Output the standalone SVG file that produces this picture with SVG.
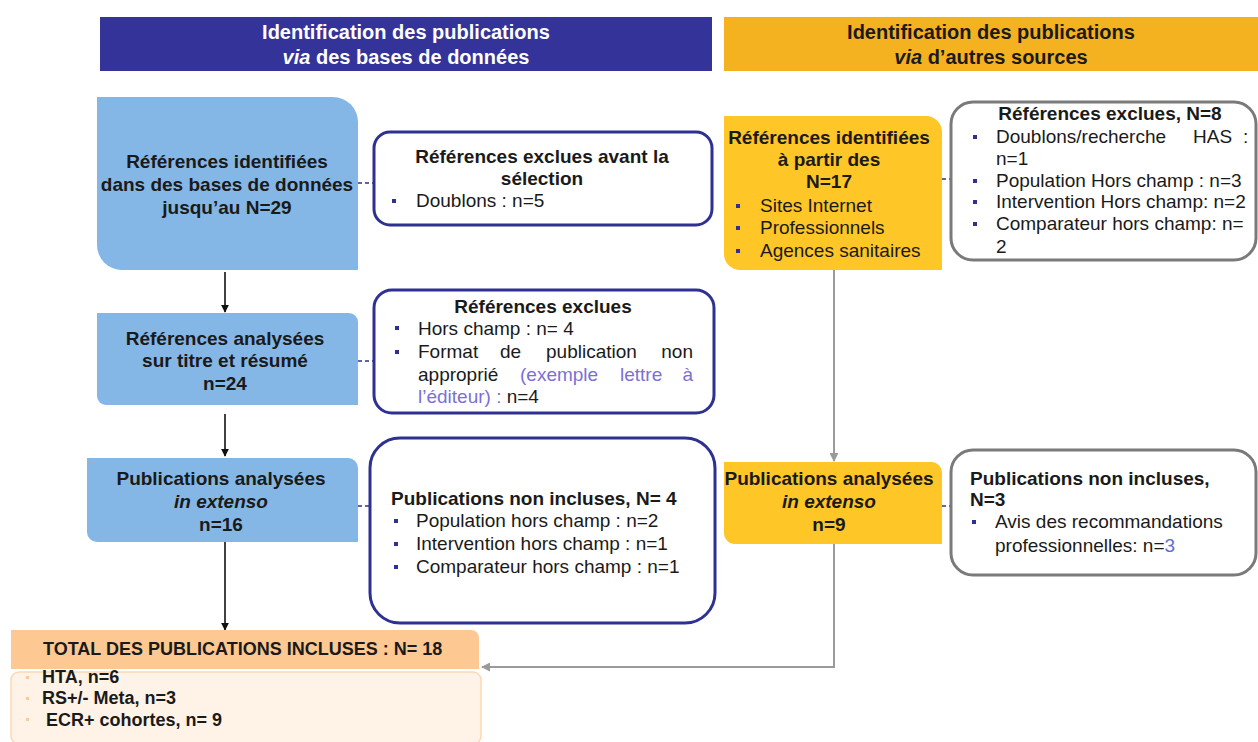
<svg xmlns="http://www.w3.org/2000/svg" width="1258" height="742" viewBox="0 0 1258 742">
<defs>
<style>
text{font-family:"Liberation Sans",Arial,sans-serif;fill:#1a1a1a}
.hd{font-size:20px;font-weight:bold;text-anchor:middle}
.hw{fill:#ffffff}
.b{font-size:19px;font-weight:bold}
.r{font-size:19px}
.c{text-anchor:middle}
.it{font-style:italic}
.pur{fill:#7b6fd6}
.blueBox{fill:#85B7E6}
.yelBox{fill:#FFC627}
.navyBox{fill:#ffffff;stroke:#2E3192;stroke-width:3}
.greyBox{fill:#ffffff;stroke:#7a7a7a;stroke-width:3}
.blt{fill:#2E3192}
.oblt{fill:#FBC99A}
.arr{fill:none;stroke:#111111;stroke-width:1.6}
.garr{fill:none;stroke:#9a9a9a;stroke-width:2}
.dash{fill:none;stroke:#2E3192;stroke-width:1.6;stroke-dasharray:4 3}
</style>
<marker id="ah" viewBox="0 0 10 10" refX="9" refY="5" markerWidth="8" markerHeight="8" markerUnits="userSpaceOnUse" orient="auto"><path d="M0,0 L10,5 L0,10 z" fill="#111111"/></marker>
<marker id="gah" viewBox="0 0 10 10" refX="9" refY="5" markerWidth="9" markerHeight="9" markerUnits="userSpaceOnUse" orient="auto"><path d="M0,0 L10,5 L0,10 z" fill="#9a9a9a"/></marker>
</defs>
<rect width="1258" height="742" fill="#ffffff"/>

<g id="header-db">
<rect x="100" y="17" width="612" height="54" fill="#333399"/>
<text class="hd hw" x="406" y="39">Identification des publications</text>
<text class="hd hw" x="406" y="64"><tspan class="it">via</tspan> des bases de données</text>
</g>
<g id="header-other">
<rect x="724" y="17" width="534" height="54" fill="#F4B120"/>
<text class="hd" x="991" y="39">Identification des publications</text>
<text class="hd" x="991" y="64"><tspan class="it">via</tspan> d’autres sources</text>
</g>

<g id="connectors">
<line class="dash" x1="358" y1="183" x2="373" y2="183"/>
<line class="dash" x1="358" y1="361" x2="373" y2="361"/>
<line class="dash" x1="358" y1="506" x2="370" y2="506"/>
<line class="dash" x1="942" y1="179" x2="950" y2="179"/>
<line class="dash" x1="942" y1="506" x2="950" y2="506"/>
<line class="arr" x1="225" y1="272" x2="225" y2="312" marker-end="url(#ah)"/>
<line class="arr" x1="225" y1="414" x2="225" y2="456" marker-end="url(#ah)"/>
<line class="arr" x1="225" y1="542" x2="225" y2="630" marker-end="url(#ah)"/>
<line class="garr" x1="834" y1="270" x2="834" y2="461" marker-end="url(#gah)"/>
<polyline class="garr" points="834,544 834,667 482,667" marker-end="url(#gah)"/>
</g>

<g id="node-ref-db">
<path class="blueBox" d="M97,97 H333 A25,25 0 0 1 358,122 V270 H122 A25,25 0 0 1 97,245 Z"/>
<text class="b c" x="227" y="168">Références identifiées</text>
<text class="b c" x="227" y="191">dans des bases de données</text>
<text class="b c" x="227" y="214">jusqu’au N=29</text>
</g>

<g id="node-excl-before">
<rect class="navyBox" x="374" y="132" width="338" height="93" rx="16"/>
<text class="b c" x="542" y="163">Références exclues avant la</text>
<text class="b c" x="542" y="185">sélection</text>
<rect class="blt" x="392" y="199" width="4" height="4"/>
<text class="r" x="416" y="207">Doublons : n=5</text>
</g>

<g id="node-ref-analysed">
<path class="blueBox" d="M97,313 H349 A9,9 0 0 1 358,322 V405 H106 A9,9 0 0 1 97,396 Z"/>
<text class="b c" x="225" y="345">Références analysées</text>
<text class="b c" x="225" y="367">sur titre et résumé</text>
<text class="b c" x="225" y="390">n=24</text>
</g>

<g id="node-excl">
<rect class="navyBox" x="374" y="290" width="340" height="123" rx="18"/>
<text class="b c" x="543" y="313">Références exclues</text>
<rect class="blt" x="395" y="326" width="4" height="4"/>
<text class="r" x="418" y="335">Hors champ : n= 4</text>
<rect class="blt" x="395" y="350" width="4" height="4"/>
<text class="r" x="418" y="358">Format</text>
<text class="r" x="500" y="358">de</text>
<text class="r" x="546" y="358">publication</text>
<text class="r" x="693" y="358" text-anchor="end">non</text>
<text class="r" x="418" y="381">approprié</text>
<text class="r pur" x="520" y="381">(exemple</text>
<text class="r pur" x="620" y="381">lettre</text>
<text class="r pur" x="693" y="381" text-anchor="end">à</text>
<text class="r" x="418" y="403"><tspan class="pur">l’éditeur) :</tspan> n=4</text>
</g>

<g id="node-pub-analysed">
<path class="blueBox" d="M87,458 H348 A10,10 0 0 1 358,468 V542 H97 A10,10 0 0 1 87,532 Z"/>
<text class="b c" x="221" y="485">Publications analysées</text>
<text class="b c it" x="221" y="508">in extenso</text>
<text class="b c" x="221" y="531">n=16</text>
</g>

<g id="node-not-included">
<rect class="navyBox" x="370" y="438" width="345" height="185" rx="30"/>
<text class="b" x="391" y="505">Publications non incluses, N= 4</text>
<rect class="blt" x="394" y="519" width="4" height="4"/>
<text class="r" x="416" y="527">Population hors champ : n=2</text>
<rect class="blt" x="394" y="542" width="4" height="4"/>
<text class="r" x="416" y="550">Intervention hors champ : n=1</text>
<rect class="blt" x="394" y="565" width="4" height="4"/>
<text class="r" x="416" y="573">Comparateur hors champ : n=1</text>
</g>

<g id="node-total">
<rect x="11" y="672" width="470" height="72" rx="8" fill="#FFF3E8" stroke="#FCD7B4" stroke-width="1.5"/>
<path d="M11,630 H471 A8,8 0 0 1 479,638 V669 H11 Z" fill="#FDC892"/>
<text class="b" style="font-size:18px" x="43" y="655">TOTAL DES PUBLICATIONS INCLUSES : N= 18</text>
<rect class="oblt" x="26" y="676" width="3" height="3"/>
<text class="b" style="font-size:18px" x="42" y="683">HTA, n=6</text>
<rect class="oblt" x="26" y="697" width="3" height="3"/>
<text class="b" style="font-size:18px" x="42" y="704">RS+/- Meta, n=3</text>
<rect class="oblt" x="26" y="718" width="3" height="3"/>
<text class="b" style="font-size:18px" x="46" y="726">ECR+ cohortes, n= 9</text>
</g>

<g id="node-ref-other">
<path class="yelBox" d="M724,116 H926 A16,16 0 0 1 942,132 V270 H740 A16,16 0 0 1 724,254 Z"/>
<text class="b c" x="829" y="144">Références identifiées</text>
<text class="b c" x="829" y="166">à partir des</text>
<text class="b c" x="829" y="188">N=17</text>
<rect class="blt" x="736" y="204" width="4" height="4"/>
<text class="r" x="760" y="212">Sites Internet</text>
<rect class="blt" x="736" y="226" width="4" height="4"/>
<text class="r" x="760" y="234">Professionnels</text>
<rect class="blt" x="736" y="249" width="4" height="4"/>
<text class="r" x="760" y="257">Agences sanitaires</text>
</g>

<g id="node-excl-other">
<rect class="greyBox" x="951" y="102" width="305" height="158" rx="22"/>
<text class="b c" x="1110" y="120">Références exclues, N=8</text>
<rect class="blt" x="973" y="135" width="4" height="4"/>
<text class="r" x="996" y="143">Doublons/recherche</text>
<text class="r" x="1193" y="143">HAS</text>
<text class="r" x="1243" y="143">:</text>
<text class="r" x="996" y="165">n=1</text>
<rect class="blt" x="973" y="179" width="4" height="4"/>
<text class="r" x="996" y="187">Population Hors champ : n=3</text>
<rect class="blt" x="973" y="200" width="4" height="4"/>
<text class="r" x="996" y="208">Intervention Hors champ: n=2</text>
<rect class="blt" x="973" y="222" width="4" height="4"/>
<text class="r" x="996" y="230">Comparateur hors champ: n=</text>
<text class="r" x="996" y="253">2</text>
</g>

<g id="node-pub-other">
<path class="yelBox" d="M724,462 H931 A11,11 0 0 1 942,473 V544 H735 A11,11 0 0 1 724,533 Z"/>
<text class="b c" x="829" y="485">Publications analysées</text>
<text class="b c it" x="829" y="508">in extenso</text>
<text class="b c" x="829" y="531">n=9</text>
</g>

<g id="node-not-included-other">
<rect class="greyBox" x="951" y="450" width="305" height="125" rx="22"/>
<text class="b" x="970" y="485">Publications non incluses,</text>
<text class="b" x="970" y="506">N=3</text>
<rect class="blt" x="972" y="520" width="4" height="4"/>
<text class="r" x="995" y="528">Avis des recommandations</text>
<text class="r" x="995" y="552">professionnelles: n=<tspan fill="#5b6fd6">3</tspan></text>
</g>
</svg>
